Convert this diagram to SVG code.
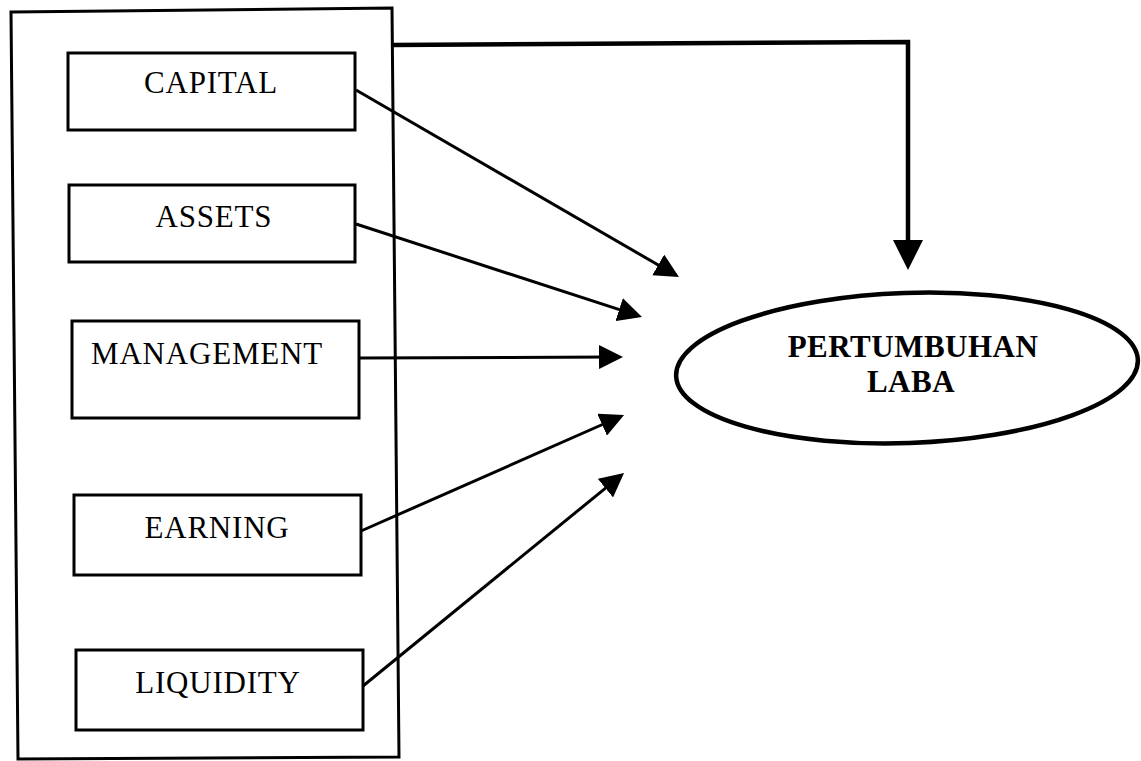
<svg xmlns="http://www.w3.org/2000/svg" width="1141" height="761" viewBox="0 0 1141 761">
<defs>
<style>
.box{fill:#fff;stroke:#000;stroke-width:3}
.lbl{font-family:"Liberation Serif","Times New Roman",serif;font-size:31px;letter-spacing:0.8px;fill:#000;text-anchor:middle}
.bold{font-weight:bold;letter-spacing:0.5px}
.conn{fill:none;stroke:#000;stroke-width:3}
.thick{fill:none;stroke:#000;stroke-width:4.5}
</style>
<marker id="ah" markerUnits="userSpaceOnUse" markerWidth="24" markerHeight="24" refX="14" refY="12" orient="auto">
<path d="M0,0 L24,12 L0,24 Z" fill="#000"/>
</marker>
<marker id="ahBig" markerUnits="userSpaceOnUse" markerWidth="30" markerHeight="30" refX="22" refY="15" orient="auto">
<path d="M0,0 L30,15 L0,30 Z" fill="#000"/>
</marker>
</defs>
<rect width="1141" height="761" fill="#fff"/>
<g id="group">
<path d="M11,12 L392,8 L399,757 L18,759 Z" fill="none" stroke="#000" stroke-width="3"/>
</g>
<g id="capital">
<rect class="box" x="68" y="53" width="287" height="77"/>
<text class="lbl" x="211" y="93">CAPITAL</text>
</g>
<g id="assets">
<rect class="box" x="69" y="185" width="286" height="77"/>
<text class="lbl" x="214" y="227">ASSETS</text>
</g>
<g id="management">
<rect class="box" x="72" y="321" width="287" height="97"/>
<text class="lbl" x="207" y="364">MANAGEMENT</text>
</g>
<g id="earning">
<rect class="box" x="74" y="495" width="287" height="80"/>
<text class="lbl" x="217" y="538">EARNING</text>
</g>
<g id="liquidity">
<rect class="box" x="76" y="650" width="287" height="80"/>
<text class="lbl" x="218" y="693">LIQUIDITY</text>
</g>
<g id="pertumbuhan">
<ellipse cx="907" cy="368" rx="231" ry="75" fill="#fff" stroke="#000" stroke-width="4.5" transform="rotate(-2 907 368)"/>
<text class="lbl bold" x="913" y="357">PERTUMBUHAN</text>
<text class="lbl bold" x="911" y="392">LABA</text>
</g>
<g id="connectors">
<line class="conn" x1="356" y1="90" x2="670.3" y2="272" marker-end="url(#ah)"/>
<line class="conn" x1="356" y1="224" x2="632.5" y2="313.9" marker-end="url(#ah)"/>
<line class="conn" x1="359" y1="358" x2="613" y2="357" marker-end="url(#ah)"/>
<line class="conn" x1="361" y1="531" x2="614.9" y2="419" marker-end="url(#ah)"/>
<line class="conn" x1="363" y1="686" x2="616.3" y2="479.3" marker-end="url(#ah)"/>
<polyline class="thick" points="392,45 908,42 908,262" marker-end="url(#ahBig)"/>
</g>
</svg>
